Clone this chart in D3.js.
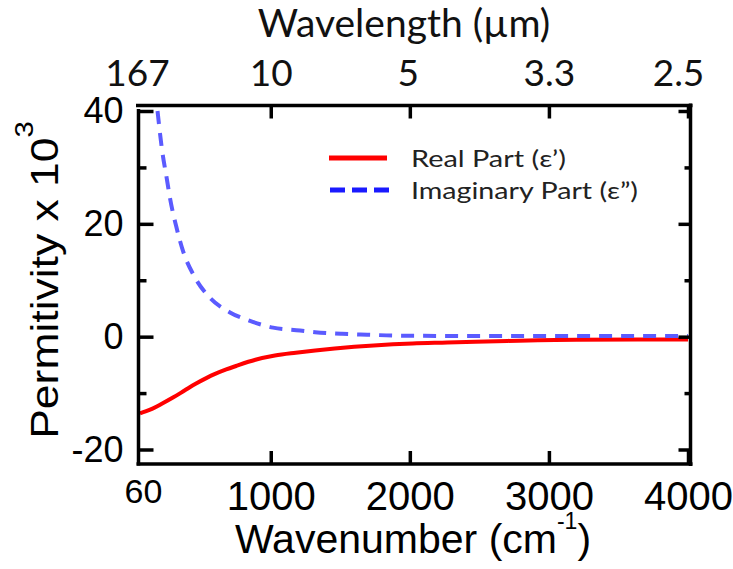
<!DOCTYPE html>
<html><head><meta charset="utf-8">
<script src="https://cdn.jsdelivr.net/npm/d3@7/dist/d3.min.js"></script>
<style>
html,body{margin:0;padding:0;background:#fff;}
svg{display:block;}
</style></head>
<body>
<svg id="chart" width="733" height="569"></svg>
<script>
// ---- data ----
const realWavenumber = [60,100,150,220,300,380,460,540,600,680,750,890,1030,1180,1320,1460,1600,1740,2020,2270,2700,3200,4000];
const realValues     = [-13.6,-13.25,-12.75,-11.85,-10.75,-9.55,-8.35,-7.3,-6.6,-5.8,-5.2,-4.1,-3.35,-2.85,-2.45,-2.1,-1.8,-1.55,-1.2,-1.05,-0.75,-0.55,-0.5];
const imagWavenumber = [186,218,254,276,319,369,448,555,707,851,1017,1211,1319,1513,1693,1880,2100,2500,3000,4000];
const imagValues     = [40,33.2,27.8,24.5,19.7,15.2,10.8,7.1,4.3,2.8,1.6,1.1,0.8,0.5,0.35,0.2,0.15,0.1,0.1,0.1];
const xTicks = [60,1000,2000,3000,4000];
const xTickLabels = ["60","1000","2000","3000","4000"];
const topTickLabels = ["167","10","5","3.3","2.5"];
const yMajorTicks = [-20,0,20,40];
const yMinorTicks = [-10,10,30];
const seriesNames = ["Real Part (\u03b5\u2019)", "Imaginary Part (\u03b5\u201d)"];

const svg = d3.select("#chart");
const x = d3.scaleLinear().domain([60,4000]).range([140,688]);
const y = d3.scaleLinear().domain([-20,40]).range([449.5,111]);

const frame = {l:138.5, r:690.5, t:105.5, b:464};
const arial = "'Liberation Sans', Arial, sans-serif";
const calibri = "Lato, 'Open Sans', sans-serif";

// clip
svg.append("defs").append("clipPath").attr("id","clip")
  .append("rect").attr("x",frame.l).attr("y",frame.t).attr("width",frame.r-frame.l).attr("height",frame.b-frame.t);

// curves
const line = (xs, ys) => d3.line().curve(d3.curveMonotoneX)
  .x((d,i)=>x(xs[i])).y((d,i)=>y(ys[i]))(xs);

svg.append("path").attr("clip-path","url(#clip)")
  .attr("d", line(realWavenumber, realValues))
  .attr("fill","none").attr("stroke","#ff0000").attr("stroke-width",4);
svg.append("path").attr("clip-path","url(#clip)")
  .attr("d", line(imagWavenumber, imagValues))
  .attr("fill","none").attr("stroke","#5b5bff").attr("stroke-width",4)
  .attr("stroke-dasharray","13,9");

// axes (ticks pointing inward)
function styleAxis(g){
  g.select(".domain").remove();
  g.selectAll(".tick line").attr("stroke","#000").attr("stroke-width",3.5);
}
// left
svg.append("g").attr("transform",`translate(${frame.l},0)`)
  .call(d3.axisLeft(y).tickValues(yMajorTicks).tickSizeInner(-15).tickSizeOuter(0).tickPadding(15).tickFormat(d=>String(d)))
  .call(styleAxis)
  .call(g=>g.selectAll("text").attr("font-family",arial).attr("font-size",36).attr("fill","#000"));
svg.append("g").attr("transform",`translate(${frame.l},0)`)
  .call(d3.axisLeft(y).tickValues(yMinorTicks).tickSizeInner(-8).tickSizeOuter(0).tickFormat(""))
  .call(styleAxis);
// right
svg.append("g").attr("transform",`translate(${frame.r},0)`)
  .call(d3.axisRight(y).tickValues(yMajorTicks).tickSizeInner(-12).tickSizeOuter(0).tickFormat(""))
  .call(styleAxis);
svg.append("g").attr("transform",`translate(${frame.r},0)`)
  .call(d3.axisRight(y).tickValues(yMinorTicks).tickSizeInner(-6).tickSizeOuter(0).tickFormat(""))
  .call(styleAxis);
// bottom
svg.append("g").attr("transform",`translate(0,${frame.b})`)
  .call(d3.axisBottom(x).tickValues(xTicks).tickSizeInner(-13).tickSizeOuter(0).tickPadding(18)
        .tickFormat((d,i)=>xTickLabels[i]))
  .call(styleAxis)
  .call(g=>g.selectAll("text").attr("font-family",arial).attr("font-size",40).attr("fill","#000"))
  .call(g=>g.selectAll(".tick").filter(d=>d===60).select("text").attr("font-size",34).attr("dx",3).attr("y",15))
  .call(g=>g.selectAll(".tick").filter(d=>d===60).select("line").remove());
// top
svg.append("g").attr("transform",`translate(0,${frame.t})`)
  .call(d3.axisTop(x).tickValues(xTicks).tickSizeInner(-13).tickSizeOuter(0).tickPadding(20)
        .tickFormat((d,i)=>topTickLabels[i]))
  .call(styleAxis)
  .call(g=>g.selectAll("text").attr("font-family",calibri).attr("font-size",37).attr("fill","#111"))
  .call(g=>g.selectAll(".tick").filter(d=>d===60).select("text").attr("dx",-3))
  .call(g=>g.selectAll(".tick").filter(d=>d===2000).select("text").attr("dx",-2))
  .call(g=>g.selectAll(".tick").filter(d=>d===4000).select("text").attr("dx",-10))
  .call(g=>g.selectAll(".tick").filter(d=>d===60).select("line").remove());

// frame
const fr = svg.append("g").attr("stroke","#000").attr("stroke-width",3.5).attr("fill","none");
fr.append("line").attr("x1",136).attr("x2",692.5).attr("y1",frame.t).attr("y2",frame.t);
fr.append("line").attr("x1",frame.l).attr("x2",frame.l).attr("y1",109).attr("y2",frame.b+1.5);
fr.append("line").attr("x1",136.5).attr("x2",692.5).attr("y1",frame.b).attr("y2",frame.b);
fr.append("line").attr("x1",frame.r).attr("x2",frame.r).attr("y1",103.5).attr("y2",frame.b+2);

// titles
svg.append("text").attr("x",404).attr("y",37).attr("text-anchor","middle")
  .attr("font-family",calibri).attr("font-size",39).attr("fill","#111").text("Wavelength (\u00b5m)");

const xt = svg.append("text").attr("x",413).attr("y",553).attr("text-anchor","middle")
  .attr("font-family",arial).attr("font-size",41).attr("fill","#000");
xt.append("tspan").text("Wavenumber (cm");
xt.append("tspan").attr("font-size",23).attr("dy",-24).text("-1");
xt.append("tspan").attr("dy",24).text(")");

const yt = svg.append("text").attr("transform","translate(58,280) rotate(-90) scale(1.17,1)").attr("text-anchor","middle")
  .attr("font-family",arial).attr("font-size",38).attr("fill","#000");
yt.append("tspan").text("Permitivity x 10");
yt.append("tspan").attr("font-size",25).attr("dy",-25).text("3");

// legend
const leg = svg.append("g");
const legY = [158, 190];
const legW = [155, 227];
leg.append("line").attr("x1",329).attr("x2",387).attr("y1",legY[0]).attr("y2",legY[0])
  .attr("stroke","#ff0000").attr("stroke-width",5);
leg.append("line").attr("x1",330).attr("x2",390).attr("y1",legY[1]).attr("y2",legY[1])
  .attr("stroke","#1a1aff").attr("stroke-width",5).attr("stroke-dasharray","15,7");
seriesNames.forEach((s,i)=>{
  leg.append("text").attr("x",411).attr("y",legY[i]+9).attr("font-family",calibri)
    .attr("font-size",24).attr("fill","#222")
    .attr("textLength",legW[i]).attr("lengthAdjust","spacingAndGlyphs").text(s);
});
</script>
</body></html>
